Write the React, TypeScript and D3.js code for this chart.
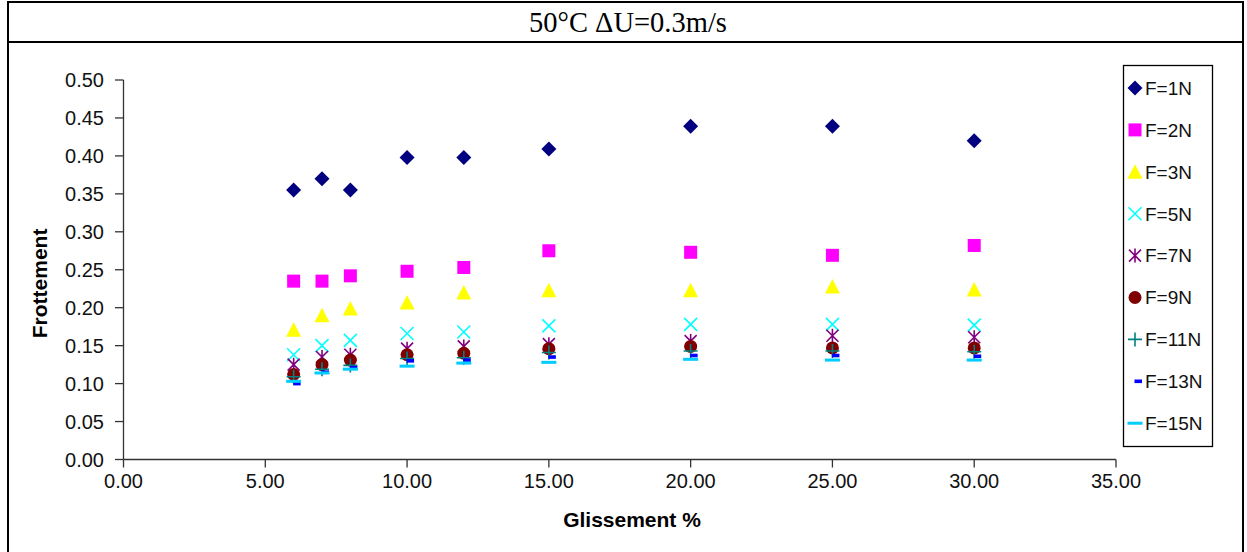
import React from "react";
import * as d3 from "d3";

const slips = [6, 7, 8, 10, 12, 15, 20, 25, 30];
const f1 = [0.355, 0.37, 0.355, 0.398, 0.398, 0.409, 0.439, 0.439, 0.42];
const f2 = [0.235, 0.235, 0.242, 0.248, 0.253, 0.275, 0.273, 0.269, 0.282];
const f3 = [0.171, 0.19, 0.199, 0.207, 0.22, 0.223, 0.223, 0.228, 0.224];
const f5 = [0.138, 0.15, 0.157, 0.166, 0.168, 0.176, 0.178, 0.178, 0.177];
const f7 = [0.125, 0.135, 0.138, 0.146, 0.149, 0.152, 0.156, 0.163, 0.161];
const f9 = [0.112, 0.125, 0.131, 0.138, 0.14, 0.146, 0.149, 0.147, 0.147];
const f11 = [0.109, 0.119, 0.124, 0.133, 0.134, 0.141, 0.143, 0.143, 0.142];
const f13 = [0.1, 0.115, 0.121, 0.13, 0.131, 0.135, 0.137, 0.137, 0.136];
const f15 = [0.103, 0.114, 0.119, 0.123, 0.127, 0.128, 0.132, 0.131, 0.131];

const seriesNames = ["F=1N", "F=2N", "F=3N", "F=5N", "F=7N", "F=9N", "F=11N", "F=13N", "F=15N"];
const seriesValues = [f1, f2, f3, f5, f7, f9, f11, f13, f15];
const seriesColors = ["#000080", "#FF00FF", "#FFFF00", "#00FFFF", "#800080", "#800000", "#008080", "#0000FF", "#00CCFF"];
const seriesShapes = ["diamond", "square", "triangle", "x", "star", "circle", "plus", "shortdash", "dash"];

const xTicks = [0, 5, 10, 15, 20, 25, 30, 35];
const yTicks = [0, 0.05, 0.1, 0.15, 0.2, 0.25, 0.3, 0.35, 0.4, 0.45, 0.5];

const title = "50°C ΔU=0.3m/s";
const xTitle = "Glissement %";
const yTitle = "Frottement";

function Marker({ shape, color, cx, cy }: { shape: string; color: string; cx: number; cy: number }) {
  const t = `translate(${cx},${cy})`;
  switch (shape) {
    case "diamond":
      return <path transform={t} d="M0,-7.5L7.5,0L0,7.5L-7.5,0Z" fill={color} />;
    case "square":
      return <rect x={cx - 6.5} y={cy - 6.5} width={13} height={13} fill={color} />;
    case "triangle":
      return <path transform={t} d="M0,-7.5L7.5,7L-7.5,7Z" fill={color} />;
    case "x":
      return <path transform={t} d="M-6.5,-6.5L6.5,6.5M-6.5,6.5L6.5,-6.5" stroke={color} strokeWidth={1.6} fill="none" />;
    case "star":
      return <path transform={t} d="M-6,-6L6,6M-6,6L6,-6M0,-7L0,7" stroke={color} strokeWidth={1.6} fill="none" />;
    case "circle":
      return <circle cx={cx} cy={cy} r={6.5} fill={color} />;
    case "plus":
      return <path transform={t} d="M-7,0L7,0M0,-7L0,7" stroke={color} strokeWidth={1.6} fill="none" />;
    case "shortdash":
      return <rect x={cx - 0.5} y={cy - 1.8} width={7.5} height={3.6} fill={color} />;
    case "dash":
      return <rect x={cx - 7.5} y={cy - 1.5} width={15} height={3} fill={color} />;
  }
  return null;
}

export default function App() {
  const x = d3.scaleLinear().domain([0, 35]).range([123.5, 1116]);
  const y = d3.scaleLinear().domain([0, 0.5]).range([459.5, 80]);
  const font = "'Liberation Sans', Arial, sans-serif";
  const axisColor = "#333";

  return (
    <svg width={1247} height={552} style={{ position: "absolute", left: 0, top: 0, background: "#fff" }}>
      {/* frame */}
      <rect x={8} y={2} width={1235} height={560} fill="none" stroke="#000" strokeWidth={2} />
      <line x1={8} x2={1243} y1={42} y2={42} stroke="#000" strokeWidth={2} />
      <text x={628} y={32} textAnchor="middle" fontFamily="'Liberation Serif', 'Times New Roman', serif" fontSize={28.5} fill="#000">
        {title}
      </text>

      {/* y axis */}
      <line x1={123.5} x2={123.5} y1={y(0.5)} y2={y(0)} stroke={axisColor} strokeWidth={1.3} />
      {yTicks.map((t) => (
        <g key={"y" + t}>
          <line x1={115} x2={123.5} y1={y(t)} y2={y(t)} stroke={axisColor} strokeWidth={1.3} />
          <text x={104} y={y(t)} dy="0.35em" textAnchor="end" fontFamily={font} fontSize={20} fill="#111">
            {d3.format(".2f")(t)}
          </text>
        </g>
      ))}

      {/* x axis */}
      <line x1={x(0)} x2={x(35)} y1={y(0)} y2={y(0)} stroke={axisColor} strokeWidth={1.3} />
      {xTicks.map((t) => (
        <g key={"x" + t}>
          <line x1={x(t)} x2={x(t)} y1={y(0)} y2={y(0) + 8} stroke={axisColor} strokeWidth={1.3} />
          <text x={x(t)} y={488} textAnchor="middle" fontFamily={font} fontSize={20} fill="#111">
            {d3.format(".2f")(t)}
          </text>
        </g>
      ))}

      <text x={632} y={527} textAnchor="middle" fontFamily={font} fontWeight="bold" fontSize={21} fill="#000">
        {xTitle}
      </text>
      <text transform={`translate(47,${y(0.232)}) rotate(-90)`} textAnchor="middle" fontFamily={font} fontWeight="bold" fontSize={21} fill="#000">
        {yTitle}
      </text>

      {/* points */}
      {seriesValues.map((vals, si) => (
        <g key={"s" + si}>
          {vals.map((v, i) => (
            <Marker key={i} shape={seriesShapes[si]} color={seriesColors[si]} cx={x(slips[i])} cy={y(v)} />
          ))}
        </g>
      ))}

      {/* legend */}
      <rect x={1123.5} y={65.5} width={89} height={381} fill="#fff" stroke="#000" strokeWidth={1.3} />
      {seriesNames.map((n, i) => {
        const ly = 88 + i * 41.9;
        return (
          <g key={"l" + i}>
            <Marker shape={seriesShapes[i]} color={seriesColors[i]} cx={1135} cy={ly} />
            <text x={1145} y={ly} dy="0.36em" fontFamily={font} fontSize={19} fill="#111">
              {n}
            </text>
          </g>
        );
      })}
    </svg>
  );
}
